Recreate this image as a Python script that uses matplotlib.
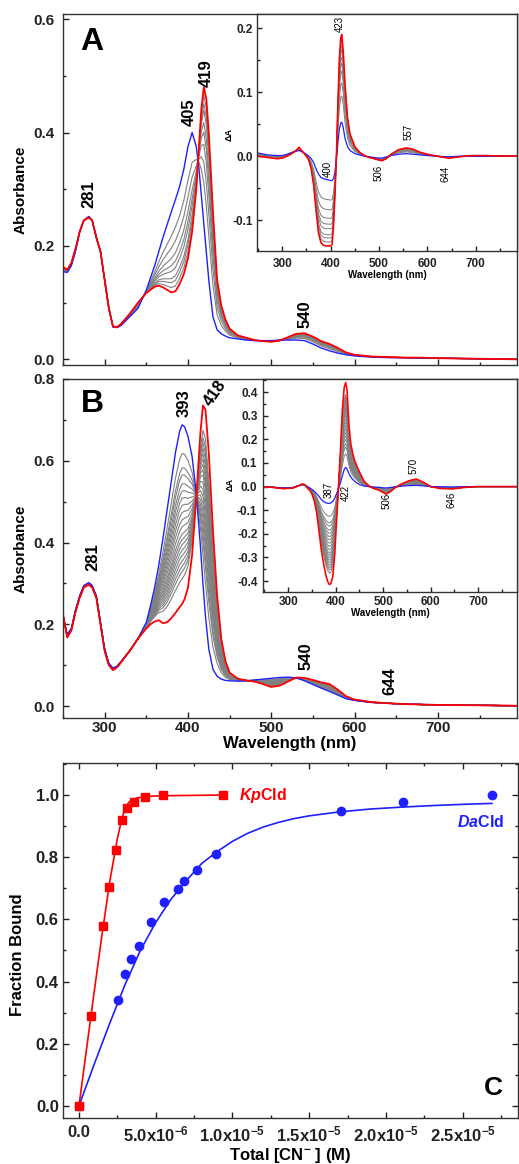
import numpy as np
import matplotlib
matplotlib.use("Agg")
import matplotlib.pyplot as plt
from matplotlib.ticker import MultipleLocator

plt.rcParams['font.family'] = ['Liberation Sans', 'DejaVu Sans']
plt.rcParams['font.weight'] = 'bold'
plt.rcParams['mathtext.fontset'] = 'custom'
plt.rcParams['mathtext.rm'] = 'Liberation Sans:bold'
plt.rcParams['mathtext.it'] = 'Liberation Sans:bold:italic'
plt.rcParams['mathtext.bf'] = 'Liberation Sans:bold'
plt.rcParams['mathtext.default'] = 'rm'

# ---------------- Panel A : absorbance spectra ----------------
wl_A = [250, 255, 260, 265, 270, 275, 281, 285, 290, 295, 300, 305, 310, 315, 320, 330, 340,
        350, 360, 365, 370, 380, 385, 390, 395, 400, 405, 410, 413, 416, 419, 422, 425, 430,
        435, 440, 445, 450, 460, 470, 480, 490, 500, 510, 520, 530, 540, 550, 560, 570, 580,
        590, 600, 620, 640, 660, 680, 700, 750, 795]
blue_A = [0.155, 0.153, 0.165, 0.19, 0.225, 0.245, 0.252, 0.245, 0.215, 0.19, 0.14, 0.09, 0.057,
          0.056, 0.06, 0.075, 0.09, 0.122, 0.165, 0.19, 0.215, 0.26, 0.282, 0.305, 0.335, 0.375,
          0.40, 0.375, 0.34, 0.29, 0.24, 0.19, 0.14, 0.075, 0.052, 0.045, 0.041, 0.038, 0.036,
          0.034, 0.033, 0.033, 0.033, 0.034, 0.034, 0.034, 0.033, 0.027, 0.02, 0.015, 0.011,
          0.008, 0.006, 0.004, 0.003, 0.003, 0.002, 0.002, 0.001, 0.0]
red_A = [0.163, 0.158, 0.17, 0.195, 0.225, 0.245, 0.25, 0.245, 0.215, 0.19, 0.14, 0.09, 0.058,
         0.057, 0.063, 0.08, 0.10, 0.117, 0.128, 0.13, 0.127, 0.118, 0.12, 0.133, 0.15, 0.178,
         0.225, 0.30, 0.37, 0.44, 0.48, 0.46, 0.40, 0.26, 0.14, 0.095, 0.07, 0.054, 0.042, 0.038,
         0.034, 0.032, 0.031, 0.033, 0.039, 0.045, 0.046, 0.04, 0.032, 0.027, 0.02, 0.012, 0.008,
         0.005, 0.004, 0.003, 0.003, 0.002, 0.001, 0.0]
frac_A = [0.30, 0.45, 0.58, 0.67, 0.74, 0.83, 0.88, 0.94]

# Panel A inset : difference spectra
wl_Ai = [250, 270, 290, 300, 310, 320, 330, 335, 340, 350, 355, 360, 365, 370, 375, 380, 385,
         390, 395, 400, 403, 406, 409, 412, 415, 418, 421, 423, 426, 430, 435, 440, 450, 460,
         470, 480, 490, 500, 506, 515, 525, 540, 557, 570, 585, 600, 620, 644, 665, 690, 720,
         760, 790]
blue_Ai = [0.005, 0.002, 0.001, 0.001, 0.003, 0.006, 0.008, 0.009, 0.007, 0.003, 0.0, -0.004,
           -0.01, -0.02, -0.028, -0.033, -0.035, -0.036, -0.037, -0.038, -0.038, -0.035, -0.025,
           -0.005, 0.02, 0.042, 0.052, 0.053, 0.045, 0.027, 0.015, 0.009, 0.004, 0.002, 0.0,
           -0.001, -0.002, -0.003, -0.003, -0.001, 0.001, 0.003, 0.004, 0.003, 0.002, 0.001, 0.0,
           -0.001, 0.0, 0.0, 0.0, 0.0, 0.0]
red_Ai = [0.0, -0.002, -0.004, -0.003, 0.0, 0.004, 0.01, 0.014, 0.009, 0.0, -0.006, -0.02,
          -0.045, -0.085, -0.12, -0.135, -0.139, -0.14, -0.14, -0.14, -0.138, -0.11, -0.06, 0.0,
          0.08, 0.15, 0.185, 0.19, 0.165, 0.11, 0.06, 0.035, 0.015, 0.006, 0.001, -0.002, -0.004,
          -0.006, -0.007, -0.004, 0.003, 0.01, 0.013, 0.011, 0.006, 0.003, 0.0, -0.003, -0.001,
          0.001, 0.001, 0.0, 0.0]

# ---------------- Panel B : absorbance spectra ----------------
wl_B = [250, 255, 260, 265, 270, 275, 281, 285, 290, 295, 300, 305, 310, 315, 320, 330, 340,
        350, 355, 360, 365, 370, 375, 380, 385, 390, 393, 396, 400, 405, 410, 415, 418, 421,
        425, 430, 435, 440, 445, 450, 460, 470, 480, 490, 500, 510, 520, 530, 540, 550, 560,
        570, 580, 590, 600, 620, 640, 660, 680, 700, 750, 795]
blue_B = [0.22, 0.175, 0.19, 0.235, 0.27, 0.295, 0.302, 0.295, 0.27, 0.205, 0.14, 0.105, 0.093,
          0.098, 0.11, 0.135, 0.165, 0.205, 0.245, 0.29, 0.345, 0.41, 0.48, 0.55, 0.62, 0.672,
          0.688, 0.683, 0.66, 0.61, 0.52, 0.39, 0.30, 0.22, 0.14, 0.09, 0.073, 0.066, 0.063,
          0.062, 0.061, 0.062, 0.064, 0.066, 0.068, 0.07, 0.071, 0.069, 0.062, 0.053, 0.044,
          0.036, 0.027, 0.018, 0.014, 0.009, 0.007, 0.005, 0.004, 0.003, 0.002, 0.001]
red_B = [0.225, 0.168, 0.185, 0.23, 0.265, 0.29, 0.297, 0.29, 0.265, 0.2, 0.135, 0.1, 0.088,
         0.095, 0.108, 0.135, 0.165, 0.19, 0.2, 0.207, 0.21, 0.203, 0.205, 0.215, 0.228, 0.242,
         0.25, 0.262, 0.29, 0.37, 0.51, 0.67, 0.735, 0.725, 0.62, 0.43, 0.27, 0.165, 0.11,
         0.082, 0.067, 0.063, 0.06, 0.054, 0.047, 0.05, 0.06, 0.07, 0.069, 0.064, 0.058, 0.054,
         0.04, 0.024, 0.016, 0.01, 0.007, 0.005, 0.004, 0.003, 0.002, 0.001]
frac_B = [0.16, 0.24, 0.28, 0.33, 0.37, 0.41, 0.45, 0.49, 0.53, 0.57, 0.61, 0.64, 0.67, 0.70,
          0.73, 0.76, 0.79, 0.82, 0.86]

# Panel B inset : difference spectra
wl_Bi = [247, 270, 290, 310, 320, 330, 335, 340, 345, 350, 355, 360, 365, 370, 375, 380, 384,
         387, 390, 394, 398, 402, 406, 410, 414, 418, 421, 424, 428, 432, 436, 440, 445, 450,
         460, 470, 480, 490, 500, 506, 515, 525, 540, 555, 570, 585, 600, 620, 646, 670, 700,
         740, 790]
blue_Bi = [0.0, -0.003, -0.006, -0.004, 0.002, 0.008, 0.006, 0.0, -0.005, -0.012, -0.02, -0.03,
           -0.042, -0.055, -0.064, -0.069, -0.071, -0.071, -0.069, -0.062, -0.05, -0.03, -0.01,
           0.015, 0.045, 0.072, 0.081, 0.075, 0.055, 0.04, 0.03, 0.022, 0.015, 0.009, 0.002, 0.0,
           -0.002, -0.003, -0.005, -0.006, -0.004, -0.001, 0.002, 0.004, 0.005, 0.003, 0.0,
           -0.001, -0.002, -0.001, 0.0, 0.0, 0.0]
red_Bi = [0.0, -0.004, -0.009, -0.006, 0.002, 0.011, 0.007, -0.005, -0.015, -0.03, -0.06, -0.11,
          -0.19, -0.27, -0.33, -0.38, -0.405, -0.415, -0.41, -0.38, -0.29, -0.14, 0.0, 0.15, 0.32,
          0.42, 0.44, 0.41, 0.26, 0.18, 0.14, 0.11, 0.085, 0.062, 0.022, 0.003, -0.008, -0.014,
          -0.025, -0.032, -0.022, -0.005, 0.012, 0.025, 0.032, 0.018, 0.0, -0.008, -0.01, -0.004,
          0.0, 0.0, 0.0]

# ---------------- Panel C : binding titration ----------------
kp_x = [0, 0.78e-6, 1.58e-6, 1.97e-6, 2.38e-6, 2.79e-6, 3.16e-6, 3.57e-6, 4.33e-6, 5.5e-6, 9.4e-6]
kp_y = [0, 0.289, 0.58, 0.705, 0.822, 0.92, 0.957, 0.979, 0.993, 1.0, 1.0]
kp_fit_x = [0, 0.5e-6, 1.0e-6, 1.5e-6, 2.0e-6, 2.5e-6, 2.8e-6, 3.0e-6, 3.15e-6, 3.3e-6, 3.5e-6,
            3.8e-6, 4.2e-6, 5.0e-6, 6.0e-6, 9.4e-6]
kp_fit_y = [0, 0.185, 0.37, 0.55, 0.72, 0.86, 0.925, 0.955, 0.97, 0.979, 0.986, 0.991, 0.994,
            0.997, 0.998, 1.0]
da_x = [0, 2.55e-6, 3.03e-6, 3.42e-6, 3.9e-6, 4.72e-6, 5.56e-6, 6.43e-6, 6.84e-6, 7.66e-6,
        8.94e-6, 17.1e-6, 21.08e-6, 26.9e-6]
da_y = [0, 0.339, 0.423, 0.474, 0.513, 0.59, 0.656, 0.697, 0.722, 0.758, 0.809, 0.948, 0.977, 1.0]
da_fit_x = [0, 1e-6, 2e-6, 3e-6, 4e-6, 5e-6, 6e-6, 7e-6, 8e-6, 9e-6, 10e-6, 11e-6, 12e-6, 13e-6,
            14e-6, 15e-6, 17e-6, 19e-6, 21e-6, 23e-6, 25e-6, 26.9e-6]
da_fit_y = [0, 0.135, 0.265, 0.39, 0.5, 0.59, 0.665, 0.725, 0.78, 0.818, 0.851, 0.877, 0.897,
            0.912, 0.924, 0.933, 0.946, 0.955, 0.961, 0.966, 0.97, 0.973]
c_xticks = [0, 5e-6, 1e-5, 1.5e-5, 2e-5, 2.5e-5]
c_xticklabels = ["0.0", "5.0x10$^{-6}$", "1.0x10$^{-5}$", "1.5x10$^{-5}$", "2.0x10$^{-5}$",
                 "2.5x10$^{-5}$"]

# ---------------- figure ----------------
W, H = 519, 1164
fig = plt.figure(figsize=(W / 100, H / 100), dpi=100)


def rect(l, t, r, b):
    return [l / W, 1 - b / H, (r - l) / W, (b - t) / H]


axA = fig.add_axes(rect(63, 14, 517, 365))
axAi = fig.add_axes(rect(257, 14, 517, 251))
axB = fig.add_axes(rect(63, 379, 517, 718))
axBi = fig.add_axes(rect(263, 379, 517, 592))
axC = fig.add_axes(rect(63, 763, 518, 1118))

GRAY = '#808080'
BLUE = '#1f1fff'
RED = '#ff0000'


def draw(ax, wl, blue, red, fracs, lw=1.0):
    b = np.asarray(blue)
    r = np.asarray(red)
    for f in fracs:
        ax.plot(wl, (1 - f) * b + f * r, color=GRAY, lw=0.8 * lw)
    ax.plot(wl, b, color=BLUE, lw=lw)
    ax.plot(wl, r, color=RED, lw=1.3 * lw)


def style(ax, fs, lmaj=4, lmin=2.5, xpad=2, ypad=5):
    for s in ax.spines.values():
        s.set_linewidth(1.0)
        s.set_color('#333333')
    ax.tick_params(which='both', direction='in', width=1.0, labelsize=fs, colors='#222222')
    ax.tick_params(which='major', length=lmaj)
    ax.tick_params(which='minor', length=lmin)
    ax.tick_params(axis='x', pad=xpad)
    ax.tick_params(axis='y', pad=ypad)
    for lab in ax.get_xticklabels() + ax.get_yticklabels():
        lab.set_fontweight('bold')


# ---- Panel A main ----
draw(axA, wl_A, blue_A, red_A, frac_A)
axA.set_xlim(250, 795)
axA.set_ylim(-0.010, 0.609)
axA.xaxis.set_major_locator(MultipleLocator(100))
axA.xaxis.set_minor_locator(MultipleLocator(50))
axA.set_yticks([0.0, 0.2, 0.4, 0.6])
axA.set_yticklabels(["0.0", "0.2", "0.4", "0.6"])
axA.yaxis.set_minor_locator(MultipleLocator(0.1))
axA.tick_params(axis='x', labelbottom=False)
style(axA, 11, ypad=6)
axA.set_ylabel("Absorbance", fontsize=11, fontweight='bold')
axA.yaxis.set_label_coords(-0.079, 0.5)
axA.text(0.064, 0.92, "A", transform=axA.transAxes, fontsize=23, fontweight='bold',
         ha='center', va='center')
for txt, x, y in [("281", 281, 0.291), ("405", 402, 0.436), ("419", 421.5, 0.504),
                  ("540", 541, 0.079)]:
    axA.text(x, y, txt, rotation=90, ha='center', va='center', fontsize=12, fontweight='bold')

# ---- Panel A inset ----
draw(axAi, wl_Ai, blue_Ai, red_Ai, frac_A, lw=0.9)
axAi.set_xlim(248, 785)
axAi.set_ylim(-0.148, 0.222)
axAi.set_xticks([300, 400, 500, 600, 700])
axAi.set_xticklabels(["300", "400", "500", "600", "700"])
axAi.xaxis.set_minor_locator(MultipleLocator(50))
axAi.set_yticks([-0.1, 0.0, 0.1, 0.2])
axAi.set_yticklabels(["-0.1", "0.0", "0.1", "0.2"])
axAi.yaxis.set_minor_locator(MultipleLocator(0.05))
style(axAi, 8.5, lmaj=3.5, lmin=2, xpad=5, ypad=3)
axAi.set_xlabel("Wavelength (nm)", fontsize=7, fontweight='bold')
axAi.xaxis.set_label_coords(0.5, -0.08)
axAi.text(-0.106, 0.49, "ΔA", transform=axAi.transAxes, rotation=90, fontsize=6.5,
          fontweight='bold', ha='center', va='center')
for txt, x, y in [("423", 420, 0.206), ("400", 395, -0.020), ("506", 500, -0.026),
                  ("557", 561, 0.0375), ("644", 638, -0.0276)]:
    axAi.text(x, y, txt, rotation=90, ha='center', va='center', fontsize=7, fontweight='normal')

# ---- Panel B main ----
draw(axB, wl_B, blue_B, red_B, frac_B)
axB.set_xlim(250, 795)
axB.set_ylim(-0.029, 0.80)
axB.set_xticks([300, 400, 500, 600, 700])
axB.set_xticklabels(["300", "400", "500", "600", "700"])
axB.xaxis.set_minor_locator(MultipleLocator(50))
axB.set_yticks([0.0, 0.2, 0.4, 0.6, 0.8])
axB.set_yticklabels(["0.0", "0.2", "0.4", "0.6", "0.8"])
axB.yaxis.set_minor_locator(MultipleLocator(0.1))
style(axB, 11, xpad=2, ypad=6)
axB.set_ylabel("Absorbance", fontsize=11, fontweight='bold')
axB.yaxis.set_label_coords(-0.079, 0.5)
axB.set_xlabel("Wavelength (nm)", fontsize=12, fontweight='bold')
axB.xaxis.set_label_coords(0.5, -0.053)
axB.text(0.064, 0.925, "B", transform=axB.transAxes, fontsize=23, fontweight='bold',
         ha='center', va='center')
for txt, x, y, rot in [("281", 286, 0.365, 90), ("393", 395, 0.741, 90), ("418", 433, 0.766, 55),
                       ("540", 542, 0.123, 90), ("644", 642, 0.062, 90)]:
    axB.text(x, y, txt, rotation=rot, ha='center', va='center', fontsize=12, fontweight='bold')

# ---- Panel B inset ----
draw(axBi, wl_Bi, blue_Bi, red_Bi, frac_B, lw=0.9)
axBi.set_xlim(247, 782)
axBi.set_ylim(-0.446, 0.455)
axBi.set_xticks([300, 400, 500, 600, 700])
axBi.set_xticklabels(["300", "400", "500", "600", "700"])
axBi.xaxis.set_minor_locator(MultipleLocator(50))
yt = [-0.4, -0.3, -0.2, -0.1, 0.0, 0.1, 0.2, 0.3, 0.4]
axBi.set_yticks(yt)
axBi.set_yticklabels([f"{v:.1f}" for v in yt])
axBi.yaxis.set_minor_locator(MultipleLocator(0.05))
style(axBi, 8.5, lmaj=3.5, lmin=2, xpad=3, ypad=4)
axBi.set_xlabel("Wavelength (nm)", fontsize=7, fontweight='bold')
axBi.xaxis.set_label_coords(0.5, -0.075)
axBi.text(-0.128, 0.505, "ΔA", transform=axBi.transAxes, rotation=90, fontsize=6.5,
          fontweight='bold', ha='center', va='center')
for txt, x, y in [("387", 386, -0.0126), ("422", 422.4, -0.027), ("506", 506.6, -0.062),
                  ("570", 565, 0.0856), ("646", 643, -0.055)]:
    axBi.text(x, y, txt, rotation=90, ha='center', va='center', fontsize=7, fontweight='normal')

# ---- Panel C ----
axC.plot(da_fit_x, da_fit_y, color=BLUE, lw=1.2)
axC.plot(kp_fit_x, kp_fit_y, color=RED, lw=1.2)
axC.plot(da_x, da_y, 'o', color=BLUE, ms=6, mec=BLUE)
axC.plot(kp_x, kp_y, 's', color=RED, ms=5.5, mec=RED)
axC.set_xlim(-1.04e-6, 2.86e-5)
axC.set_ylim(-0.039, 1.103)
axC.set_xticks(c_xticks)
axC.set_xticklabels(c_xticklabels)
axC.xaxis.set_minor_locator(MultipleLocator(2.5e-6))
axC.set_yticks([0.0, 0.2, 0.4, 0.6, 0.8, 1.0])
axC.set_yticklabels(["0.0", "0.2", "0.4", "0.6", "0.8", "1.0"])
axC.yaxis.set_minor_locator(MultipleLocator(0.1))
style(axC, 12, xpad=5, ypad=3)
axC.tick_params(which='both', top=True, right=True)
axC.set_ylabel("Fraction Bound", fontsize=12, fontweight='bold')
axC.yaxis.set_label_coords(-0.0835, 0.459)
axC.set_xlabel("Total [CN$^{-}$ ] (M)", fontsize=12, fontweight='bold')
axC.xaxis.set_label_coords(0.5, -0.079)
axC.text(10.45e-6, 1.0, r"$\mathit{Kp}$Cld", color=RED, fontsize=11.5, fontweight='bold',
         ha='left', va='center')
axC.text(24.6e-6, 0.913, r"$\mathit{Da}$Cld", color=BLUE, fontsize=11.5, fontweight='bold',
         ha='left', va='center')
axC.text(0.945, 0.085, "C", transform=axC.transAxes, fontsize=19, fontweight='bold',
         ha='center', va='center')

fig.savefig("out.png", dpi=100)
